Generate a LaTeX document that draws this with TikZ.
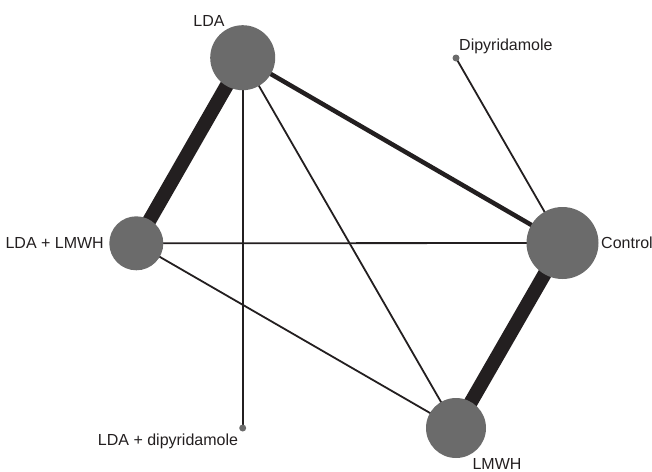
\documentclass[tikz,border=0pt]{standalone}
\usepackage{fontspec}
\setmainfont{Liberation Sans}
\usetikzlibrary{backgrounds}
\definecolor{nodegray}{HTML}{6B6B6B}
\definecolor{edgeblack}{HTML}{231F20}
\begin{document}
\begin{tikzpicture}[x=1pt,y=-1pt,
  trt/.style={circle,fill=nodegray,draw=none,inner sep=0pt},
  lbl/.style={inner sep=0pt,font=\fontsize{16}{19}\selectfont,text=edgeblack},
  thinedge/.style={draw=edgeblack,line width=1.8pt},
  midedge/.style={draw=edgeblack,line width=4.5pt},
  thickedge/.style={draw=edgeblack,line width=14pt}]
\useasboundingbox (0,0) rectangle (652,471);
\node[trt,minimum size=65pt] (lda) at (242.7,57.7) {};
\node[trt,minimum size=72pt] (ctrl) at (562.5,243) {};
\node[trt,minimum size=60pt] (lmwh) at (456,428) {};
\node[trt,minimum size=54pt] (ldalmwh) at (136.3,243.3) {};
\node[trt,minimum size=7pt] (dip) at (456,58) {};
\node[trt,minimum size=7pt] (ldadip) at (242.7,428) {};
\begin{pgfonlayer}{background}
\draw[thickedge] (lda.center) -- (ldalmwh.center);
\draw[thickedge] (ctrl.center) -- (lmwh.center);
\draw[midedge] (lda.center) -- (ctrl.center);
\draw[thinedge] (lda.center) -- (lmwh.center);
\draw[thinedge] (lda.center) -- (ldadip.center);
\draw[thinedge] (ldalmwh.center) -- (ctrl.center);
\draw[thinedge] (ldalmwh.center) -- (lmwh.center);
\draw[thinedge] (dip.center) -- (ctrl.center);
\end{pgfonlayer}
\node[lbl] (tlda) at (209,21) {LDA};
\node[lbl,anchor=west] (tdip) at (459,46.7) {Dipyridamole};
\node[lbl,anchor=east] (tldalmwh) at (104,243) {LDA + LMWH};
\node[lbl,anchor=west] (tctrl) at (601,243) {Control};
\node[lbl] (tlmwh) at (497,463.5) {LMWH};
\node[lbl] (tldadip) at (168,441.7) {LDA + dipyridamole};
\end{tikzpicture}
\end{document}
